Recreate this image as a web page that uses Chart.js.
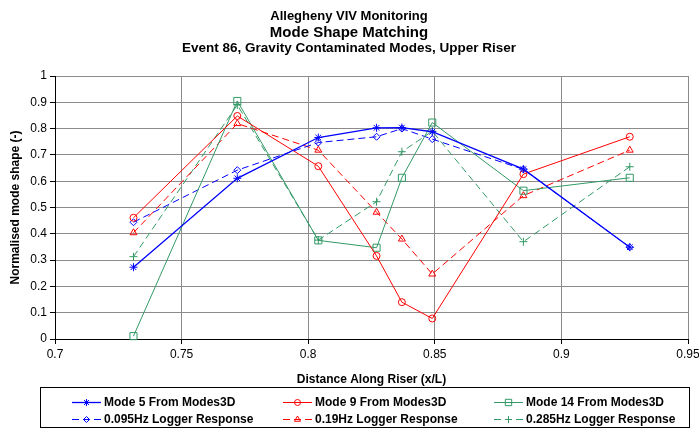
<!DOCTYPE html>
<html>
<head>
<meta charset="utf-8">
<title>Mode Shape Matching</title>
<script src="https://cdn.jsdelivr.net/npm/chart.js@4.4.1/dist/chart.umd.min.js"></script>
<style>
  body { margin: 0; background: #fff; }
  #wrap { width: 699px; height: 430px; }
</style>
</head>
<body>
<div id="wrap"><canvas id="modeChart" width="699" height="430"></canvas></div>
<script>
// riser stations (x/L) and the normalised shapes at each one
var distance = [0.731, 0.772, 0.804, 0.827, 0.837, 0.849, 0.885, 0.927];
var mode5   = [0.273, 0.611, 0.766, 0.803, 0.804, 0.788, 0.646, 0.349];
var mode9   = [0.461, 0.848, 0.657, 0.316, 0.140, 0.078, 0.627, 0.769];
var mode14  = [0.011, 0.905, 0.375, 0.347, 0.613, 0.823, 0.564, 0.613];
var log095  = [0.444, 0.642, 0.747, 0.769, 0.800, 0.760, 0.645, 0.349];
var log019  = [0.404, 0.819, 0.718, 0.482, 0.380, 0.247, 0.545, 0.718];
var log0285 = [0.313, 0.890, 0.376, 0.522, 0.712, 0.790, 0.370, 0.655];

var xTicks = [0.7, 0.75, 0.8, 0.85, 0.9, 0.95];
var yTicks = [0, 0.1, 0.2, 0.3, 0.4, 0.5, 0.6, 0.7, 0.8, 0.9, 1];
var titleLines = ['Allegheny VIV Monitoring', 'Mode Shape Matching', 'Event 86, Gravity Contaminated Modes, Upper Riser'];

var FONT = '"Liberation Sans", Arial, sans-serif';
var blue = '#0000ff', red = '#ff0000', green = '#339966';

function pairs(vals) {
  return vals.map(function(v, i) { return { x: distance[i], y: v }; });
}

function series(label, vals, color, dash, style, r, w) {
  return {
    label: label,
    data: pairs(vals),
    showLine: true,
    borderColor: color,
    borderWidth: w || 1,
    borderDash: dash,
    pointStyle: style,
    pointRadius: r,
    pointBorderColor: color,
    pointBackgroundColor: 'rgba(0,0,0,0)',
    pointBorderWidth: 1,
    clip: 6
  };
}

// titles on top, boxed key underneath the axis title
var headerAndKey = {
  id: 'headerAndKey',
  afterDraw: function(chart) {
    var ctx = chart.ctx;
    ctx.save();
    ctx.fillStyle = '#000';
    ctx.textAlign = 'center';
    ctx.textBaseline = 'alphabetic';
    ctx.font = 'bold 13px ' + FONT;
    ctx.fillText(titleLines[0], 349, 20);
    ctx.font = 'bold 15px ' + FONT;
    ctx.fillText(titleLines[1], 349, 36.5);
    ctx.font = 'bold 13.5px ' + FONT;
    ctx.fillText(titleLines[2], 349, 52);

    ctx.strokeStyle = '#000';
    ctx.lineWidth = 1;
    ctx.strokeRect(40.5, 387.5, 649, 40);

    chart.data.datasets.forEach(function(ds, i) {
      var x = 72 + (i % 3) * 211;
      var y = 402.5 + Math.floor(i / 3) * 17;
      ctx.strokeStyle = ds.borderColor;
      ctx.lineWidth = ds.borderWidth;
      ctx.setLineDash(ds.borderDash);
      ctx.beginPath();
      ctx.moveTo(x, y);
      ctx.lineTo(x + 29, y);
      ctx.stroke();
      ctx.setLineDash([]);
      ctx.lineWidth = 1;
      ctx.fillStyle = 'rgba(0,0,0,0)';
      Chart.helpers.drawPoint(ctx, { pointStyle: ds.pointStyle, radius: ds.pointRadius - 0.5, rotation: 0, borderWidth: 1 }, x + 14.5, y);
      ctx.fillStyle = '#000';
      ctx.textAlign = 'left';
      ctx.textBaseline = 'middle';
      ctx.font = 'bold 12px ' + FONT;
      ctx.fillText(ds.label, x + 32, y + 0.5);
    });
    ctx.restore();
  }
};

Chart.defaults.font.family = FONT;
Chart.defaults.color = '#000';

var ctx = document.getElementById('modeChart').getContext('2d');
var modeChart = new Chart(ctx, {
  type: 'scatter',
  data: {
    datasets: [
      series('Mode 5 From Modes3D', mode5, blue, [], 'star', 4, 1.3),
      series('Mode 9 From Modes3D', mode9, red, [], 'circle', 3.5),
      series('Mode 14 From Modes3D', mode14, green, [], 'rect', 5),
      series('0.095Hz Logger Response', log095, blue, [7, 4], 'rectRot', 3.5),
      series('0.19Hz Logger Response', log019, red, [7, 4], 'triangle', 4),
      series('0.285Hz Logger Response', log0285, green, [7, 4], 'cross', 4)
    ]
  },
  options: {
    responsive: false,
    animation: false,
    events: [],
    layout: { padding: { top: 76, right: 11, bottom: 41, left: 0 } },
    plugins: {
      legend: { display: false },
      tooltip: { enabled: false }
    },
    scales: {
      x: {
        type: 'linear',
        min: 0.7,
        max: 0.95,
        afterBuildTicks: function(s) { s.ticks = xTicks.map(function(v) { return { value: v }; }); },
        afterFit: function(s) { s.height = 50; s.paddingLeft = 0; s.paddingRight = 0; },
        ticks: { font: { size: 12 }, padding: 3, maxRotation: 0, callback: function(v) { return String(v); } },
        grid: { color: '#8c8c8c', tickLength: 5, tickColor: '#000' },
        border: { color: '#000' },
        title: { display: true, text: 'Distance Along Riser (x/L)', font: { size: 12, weight: 'bold' }, padding: { top: 0, bottom: 2 } }
      },
      y: {
        type: 'linear',
        min: 0,
        max: 1,
        afterBuildTicks: function(s) { s.ticks = yTicks.map(function(v) { return { value: v }; }); },
        afterFit: function(s) { s.width = 55; },
        ticks: { font: { size: 12 }, padding: 3, callback: function(v) { return String(v); } },
        grid: { color: '#8c8c8c', tickLength: 5, tickColor: '#000' },
        border: { color: '#000' },
        title: { display: true, text: 'Normalised mode shape (-)', font: { size: 12, weight: 'bold' }, padding: { top: 8, bottom: 0 } }
      }
    }
  },
  plugins: [headerAndKey]
});
</script>
</body>
</html>
